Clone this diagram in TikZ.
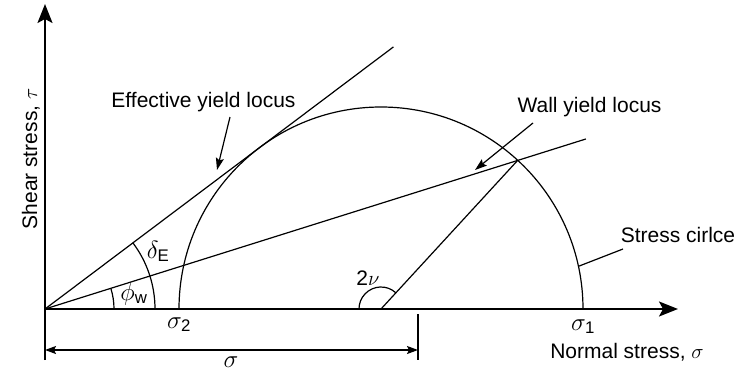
\documentclass[tikz,border=0pt]{standalone}
\usepackage{fontspec}
\setmainfont{Liberation Sans}
\usetikzlibrary{arrows.meta,calc}
\begin{document}
\begin{tikzpicture}[x=1pt,y=1pt,
  txt/.style={font=\fontsize{21}{25}\selectfont, inner sep=0pt, anchor=base},
  mth/.style={font=\fontsize{24}{28}\selectfont, inner sep=0pt, anchor=base},
  ln/.style={line width=1.2pt},
  axis/.style={line width=2pt, -{Stealth[length=19pt,width=15pt,inset=4pt]}},
  dimarrow/.style={line width=1.2pt, {Stealth[length=11pt,width=8pt,inset=2pt]}-{Stealth[length=11pt,width=8pt,inset=2pt]}},
  labarrow/.style={line width=1.2pt, -{Stealth[length=12pt,width=8pt,inset=2pt]}}]
\useasboundingbox (0,0) rectangle (736,376);
% key points
\coordinate (O) at (45,67);
\coordinate (C) at (381,67);
\coordinate (Ytop) at (45,372);
\coordinate (Ybot) at (45,16);
\coordinate (Xend) at (678,67);
\coordinate (S2) at (179,67);
\coordinate (S1) at (583,67);
\coordinate (P) at ($(C)+(47.4:202)$);
\coordinate (Eend) at ($(O)+(36.95:436)$);
\coordinate (Wend) at ($(O)+(17.45:567)$);
\coordinate (DimL) at (45,26);
\coordinate (DimR) at (418,26);
\coordinate (TickT) at (418,62);
\coordinate (TickB) at (418,16);
% axes
\draw[axis] (Ybot) -- (Ytop);
\draw[axis] (O) -- (Xend);
% stress circle
\draw[ln] (S2) arc[start angle=180, end angle=0, radius=202];
% yield loci
\draw[ln] (O) -- (Eend);
\draw[ln] (O) -- (Wend);
% radius to intersection
\draw[ln] (C) -- (P);
% angle arcs
\draw[ln] ($(C)+(47.4:22)$) arc[start angle=47.4, end angle=180, radius=22];
\draw[ln] ($(O)+(69,0)$) arc[start angle=0, end angle=17.45, radius=69];
\draw[ln] ($(O)+(110,0)$) arc[start angle=0, end angle=36.95, radius=110];
% dimension
\draw[dimarrow] (DimL) -- (DimR);
\draw[ln] (TickT) -- (TickB);
% labels
\node[txt] (eff) at (203.5,269) {Effective yield locus};
\node[txt] (wall) at (589.5,264) {Wall yield locus};
\node[txt] (stress) at (678,134) {Stress cirlce};
\node[txt] (normal) at (627,18) {Normal stress, $\sigma$};
\node[txt] (shear) [rotate=90] at (37,217) {Shear stress, $\tau$};
\node[mth] (s1) at (583,46) {$\sigma_{\mathrm{1}}$};
\node[mth] (s2) at (179,48) {$\sigma_{\mathrm{2}}$};
\node[mth] (sig) at (231,9) {$\sigma$};
\node[txt] (nu) at (368,91) {$\mathrm{2}\nu$};
\node[mth] (phi) at (134,76) {$\phi_{\mathrm{w}}$};
\node[mth] (delta) at (158,118) {$\delta_{\mathrm{E}}$};
% label pointers
\coordinate (effA) at (230,259);
\coordinate (effB) at (217,206);
\coordinate (wallA) at (533,253);
\coordinate (wallB) at (475,206);
\coordinate (stA) at (623,127);
\coordinate (stB) at ($(C)+(12.2:202)$);
\draw[labarrow] (effA) -- (effB);
\draw[labarrow] (wallA) -- (wallB);
\draw[ln] (stA) -- (stB);
\end{tikzpicture}
\end{document}
